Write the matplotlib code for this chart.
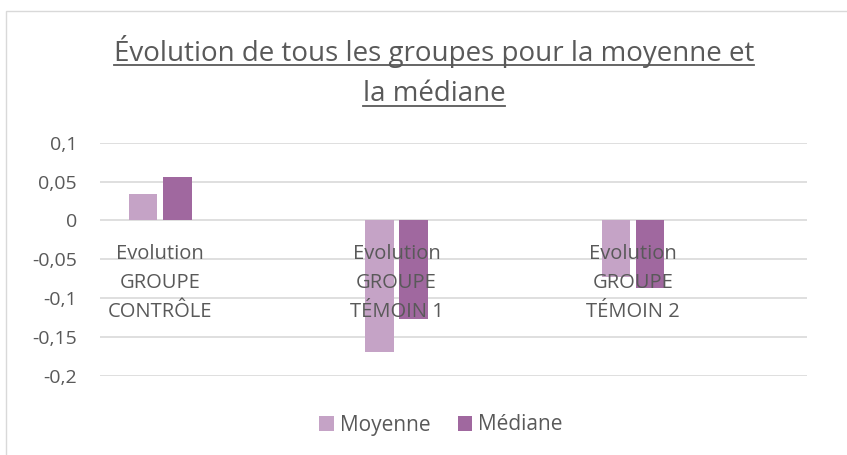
import matplotlib.pyplot as plt
from matplotlib.patches import Rectangle
import numpy as np

groupes = ['Evolution\nGROUPE\nCONTRÔLE', 'Evolution\nGROUPE\nTÉMOIN 1', 'Evolution\nGROUPE\nTÉMOIN 2']
moyenne = [0.034, -0.169, -0.073]
mediane = [0.0555, -0.127, -0.087]
yticks = [0.1, 0.05, 0, -0.05, -0.1, -0.15, -0.2]
ylabels = ['0,1', '0,05', '0', '-0,05', '-0,1', '-0,15', '-0,2']
titre = ['Évolution de tous les groupes pour la moyenne et', 'la médiane']

c_moy = '#C5A3C6'
c_med = '#A0689F'
gris = '#595959'

plt.rcParams['font.family'] = ['Open Sans', 'DejaVu Sans']

fig = plt.figure(figsize=(8.47, 4.55), dpi=100)
W, H = 847, 455
# cadre du graphique
fig.patches.append(Rectangle((6/W, -0.1), 1.2, (H-11)/H + 0.1, transform=fig.transFigure,
                             fill=False, edgecolor='#D9D9D9', linewidth=1))

ax = fig.add_axes([100/W, 1 - 375.7/H, 707/W, 233/H])
x = np.arange(len(groupes))
w = 0.122
ax.bar(x - 0.072, moyenne, w, color=c_moy, label='Moyenne', zorder=2)
ax.bar(x + 0.072, mediane, w, color=c_med, label='Médiane', zorder=2)

ax.set_ylim(-0.2, 0.1)
ax.set_xlim(-0.254, 2.736)
ax.set_yticks(yticks)
ax.set_yticklabels(ylabels)
ax.yaxis.grid(True, color='#D9D9D9', linewidth=1.2)
for s in ax.spines.values():
    s.set_visible(False)
ax.spines['bottom'].set_position(('data', 0))
ax.set_xticks(x)
ax.set_xticklabels(groupes, linespacing=1.59)
ax.tick_params(axis='both', length=0, colors=gris, labelsize=14.5)
ax.tick_params(axis='x', pad=17)
ax.tick_params(axis='y', pad=16.5, labelsize=14)
ax.yaxis.set_zorder(0.5)
ax.xaxis.set_zorder(3)

# titre souligné, ligne par ligne
fig.canvas.draw()
r = fig.canvas.get_renderer()
for txt, yb in zip(titre, [61, 101]):
    t = fig.text(434/W, 1 - yb/H, txt, ha='center', va='baseline', fontsize=20, color=gris)
    bb = t.get_window_extent(r)
    yl = 1 - (yb + 4.5)/H
    fig.lines.append(plt.Line2D([bb.x0/W, bb.x1/W], [yl, yl], transform=fig.transFigure,
                                color=gris, linewidth=1.3))

ax.legend(loc='center', bbox_to_anchor=(441/W, 1 - 425/H), bbox_transform=fig.transFigure,
          ncol=2, frameon=False, fontsize=15, handlelength=0.7, handleheight=0.7,
          handletextpad=0.3, columnspacing=1.3, labelcolor=gris)

fig.savefig('out.png', dpi=100)
